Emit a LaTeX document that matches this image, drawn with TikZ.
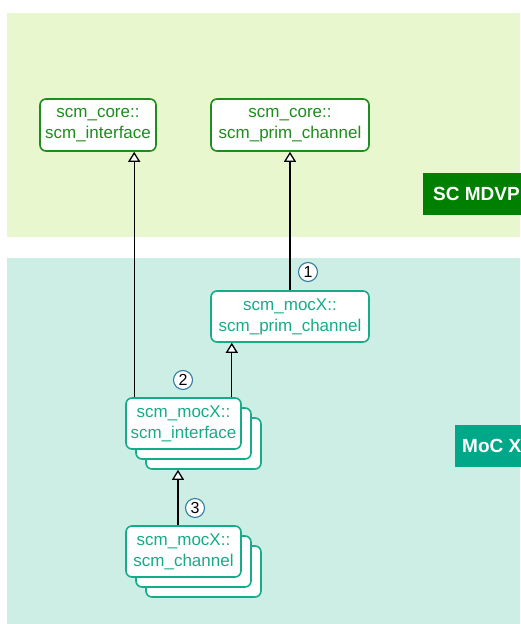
\documentclass[tikz,border=0pt]{standalone}
\usepackage{fontspec}
\setmainfont{Liberation Sans}
\usepackage{tikz}
\usetikzlibrary{positioning, arrows.meta, calc}

\definecolor{mdvpbg}{RGB}{233,247,206}
\definecolor{mocbg}{RGB}{205,238,229}
\definecolor{mdvpgreen}{RGB}{0,128,0}
\definecolor{mocteal}{RGB}{0,168,138}
\definecolor{coreline}{RGB}{30,140,30}
\definecolor{mocline}{RGB}{22,172,138}
\definecolor{circblue}{RGB}{50,125,160}

\begin{document}
\begin{tikzpicture}[x=1pt, y=-1pt,
    inherit/.style={-{Triangle[fill=white, width=12pt, length=10pt]}, line width=1.3pt},
    corebox/.style={draw=coreline, text=coreline, fill=white, line width=1.6pt,
                  rounded corners=6pt, align=center, inner sep=0pt,
                  minimum height=52pt, font=\fontsize{17}{21}\selectfont},
    mocbox/.style={corebox, draw=mocline, text=mocline, minimum height=51pt},
    stackbox/.style={mocbox, minimum width=115pt},
    layer/.style={text=white, anchor=west, inner ysep=0pt, minimum height=42pt,
                  font=\fontsize{19}{22}\selectfont\bfseries},
    num/.style={circle, draw=circblue, fill=white, line width=1.1pt,
                minimum size=19pt, inner sep=0pt, font=\fontsize{16}{16}\selectfont}]
  \useasboundingbox (0,0) rectangle (520,624);

  % layers
  \fill[mdvpbg] (7,13) rectangle (520,237);
  \fill[mocbg] (7,258) rectangle (520,624);
  \node[layer, fill=mdvpgreen, inner xsep=10pt] (mdvp) at (423,194) {SC MDVP};
  \node[layer, fill=mocteal, inner xsep=7pt] (moc) at (455,445.5) {MoC X};

  % core classes
  \node[corebox, minimum width=116pt] (cif) at (98,125) {scm\_core::\\scm\_interface};
  \node[corebox, minimum width=158pt] (cprim) at (290,125) {scm\_core::\\scm\_prim\_channel};

  % mocX classes
  \node[mocbox, minimum width=158pt] (mprim) at (290,316.5) {scm\_mocX::\\scm\_prim\_channel};
  \node[stackbox] (mif3) at (203.5,443.5) {};
  \node[stackbox] (mif2) at (193.5,433.5) {};
  \node[stackbox] (mif) at (183.5,423.5) {scm\_mocX::\\scm\_interface};
  \node[stackbox] (mch3) at (203.5,571.5) {};
  \node[stackbox] (mch2) at (193.5,561.5) {};
  \node[stackbox] (mch) at (183.5,551.5) {scm\_mocX::\\scm\_channel};

  % inheritance
  \draw[inherit] ([xshift=9pt]mif.north west) -- ([xshift=9pt]mif.north west |- cif.south);
  \draw[inherit] (mprim.north) -- (cprim.south);
  \draw[inherit] ([xshift=-10pt]mif.north east) -- ([xshift=-10pt]mif.north east |- mprim.south);
  \draw[inherit] ([xshift=-5.5pt]mch.north) -- ([xshift=-5.5pt]mch.north |- mif3.south);

  \node[num] (n1) at (308,272) {1};
  \node[num] (n2) at (183,380) {2};
  \node[num] (n3) at (195,508) {3};
\end{tikzpicture}
\end{document}
